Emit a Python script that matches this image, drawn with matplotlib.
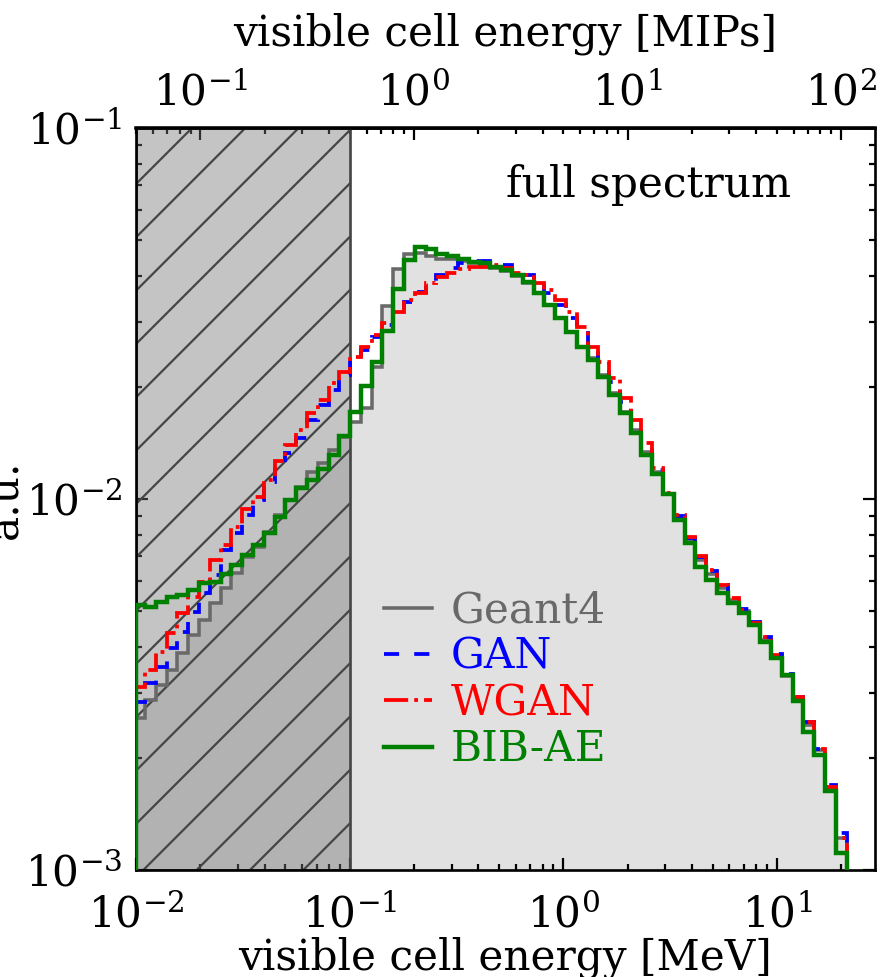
import numpy as np
import matplotlib
matplotlib.use("Agg")
import matplotlib.pyplot as plt

plt.rcParams["font.family"] = "DejaVu Serif"
plt.rcParams["mathtext.fontset"] = "dejavuserif"
plt.rcParams["font.size"] = 9.5
plt.rcParams["hatch.linewidth"] = 0.5

# log-spaced energy bins [MeV], 66 bins from 0.01 up to ~21 MeV
edges = np.logspace(-2.008, 1.326, 67)
edges[0] = 0.01

geant4 = [0.00257, 0.00287, 0.00315, 0.00346, 0.00385, 0.00430, 0.00472, 0.00525, 0.00576, 0.00632,
          0.00698, 0.00742, 0.00815, 0.00905, 0.00994, 0.01077, 0.01183, 0.0125, 0.01356, 0.0147,
          0.0161, 0.0176, 0.0227, 0.0331, 0.0417, 0.0458, 0.0460, 0.0452, 0.0444, 0.0444,
          0.0438, 0.0433, 0.0427, 0.0419, 0.0412, 0.0399, 0.0382, 0.0359, 0.0333, 0.0308,
          0.0282, 0.0257, 0.0240, 0.0216, 0.0193, 0.0172, 0.0153, 0.0134, 0.0118, 0.0103,
          0.00889, 0.00775, 0.00685, 0.00628, 0.00576, 0.00534, 0.00499, 0.00460, 0.00417, 0.00377,
          0.00333, 0.00289, 0.00246, 0.00211, 0.00166, 0.00122]

gan = [0.00284, 0.00319, 0.00353, 0.00397, 0.00438, 0.00496, 0.00558, 0.00624, 0.00729, 0.00810,
       0.00905, 0.00994, 0.0111, 0.0122, 0.0133, 0.0146, 0.0163, 0.0179, 0.0197, 0.0216,
       0.0237, 0.0252, 0.0273, 0.0294, 0.0317, 0.0340, 0.0361, 0.0385, 0.0402, 0.0419,
       0.0433, 0.0438, 0.0438, 0.0433, 0.0427, 0.0414, 0.0402, 0.0382, 0.0359, 0.0333,
       0.0308, 0.0285, 0.0255, 0.0230, 0.0207, 0.0183, 0.0160, 0.0139, 0.0120, 0.0103,
       0.00900, 0.00785, 0.00698, 0.00640, 0.00586, 0.00544, 0.00505, 0.00466, 0.00425, 0.00382,
       0.00338, 0.00293, 0.00251, 0.00212, 0.00170, 0.00126]

wgan = [0.00311, 0.00346, 0.00387, 0.00435, 0.00493, 0.00544, 0.00598, 0.00685, 0.00752, 0.00841,
        0.00940, 0.01012, 0.01125, 0.01266, 0.01398, 0.01535, 0.0171, 0.01849, 0.02054, 0.0220,
        0.0241, 0.0257, 0.0277, 0.0298, 0.0319, 0.0344, 0.0359, 0.0382, 0.0397, 0.0407,
        0.0417, 0.0422, 0.0422, 0.0427, 0.0419, 0.0407, 0.0402, 0.0382, 0.0366, 0.0344,
        0.0319, 0.0291, 0.0257, 0.0234, 0.0212, 0.0187, 0.0163, 0.0142, 0.0121, 0.0104,
        0.00905, 0.00790, 0.00702, 0.00644, 0.00586, 0.00541, 0.00502, 0.00463, 0.00425, 0.00380,
        0.00336, 0.00293, 0.00251, 0.00212, 0.00167, 0.00122]

bibae = [0.00518, 0.00512, 0.00528, 0.00544, 0.00551, 0.00569, 0.00594, 0.00598, 0.00628, 0.00664,
         0.00707, 0.00752, 0.00810, 0.00894, 0.00994, 0.0107, 0.01125, 0.01205, 0.01314, 0.01479,
         0.0172, 0.0202, 0.0234, 0.0284, 0.0368, 0.0441, 0.0478, 0.0472, 0.0458, 0.0452,
         0.0444, 0.0435, 0.0433, 0.0422, 0.0414, 0.0402, 0.0385, 0.0359, 0.0333, 0.0308,
         0.0282, 0.0257, 0.0237, 0.0213, 0.0191, 0.0171, 0.0151, 0.0131, 0.0117, 0.0103,
         0.00878, 0.00761, 0.00656, 0.00605, 0.00558, 0.00525, 0.00493, 0.00458, 0.00412, 0.00373,
         0.00336, 0.00285, 0.00236, 0.00204, 0.00163, 0.00111]

MEV_PER_MIP = 0.2

fig = plt.figure(figsize=(882 / 320, 977 / 320), dpi=320)
ax = fig.add_axes([136 / 882, 1 - 870 / 977, 739 / 882, 742 / 977])

# filled Geant4 reference
ax.stairs(geant4, edges, fill=True, color="#e1e1e1", baseline=1e-5, zorder=1)
# region below 0.5 MIP
ax.axvspan(0.01, 0.1, facecolor=(0.45, 0.45, 0.45, 0.42), edgecolor="#454545",
           hatch="//", linewidth=0.6, zorder=2)

ax.stairs(geant4, edges, color="dimgray", lw=0.8, baseline=1e-5, zorder=3, label="Geant4")
ax.stairs(gan, edges, color="blue", lw=0.85, ls=(0, (4, 4)), baseline=1e-5, zorder=4, label="GAN")
ax.stairs(wgan, edges, color="red", lw=0.85, ls="-.", baseline=1e-5, zorder=5, label="WGAN")
ax.stairs(bibae, edges, color="green", lw=1.0, baseline=1e-5, zorder=6, label="BIB-AE")

ax.set_xscale("log")
ax.set_yscale("log")
ax.set_xlim(0.01, 28.8)
ax.set_ylim(1e-3, 1e-1)

ax.set_xlabel("visible cell energy [MeV]", labelpad=0)
ax.set_ylabel("a.u.")
ax.yaxis.set_label_coords(-0.148, 0.5)

ax.tick_params(which="both", direction="in", width=0.5, top=False, right=True)
ax.tick_params(which="major", length=2.6, pad=3)
ax.tick_params(axis="x", which="major", pad=5.5)
ax.tick_params(which="minor", length=1.4)
for s in ax.spines.values():
    s.set_linewidth(0.6)

top = ax.secondary_xaxis("top", functions=(lambda e: e / MEV_PER_MIP, lambda m: m * MEV_PER_MIP))
top.set_xlabel("visible cell energy [MIPs]", labelpad=6)
top.tick_params(which="both", direction="in", width=0.5)
top.tick_params(which="major", length=2.6, pad=3)
top.tick_params(which="minor", length=1.4)

ax.text(0.693, 0.923, "full spectrum", transform=ax.transAxes, ha="center", va="center")

leg = ax.legend(loc="center", bbox_to_anchor=(0.486, 0.256), frameon=False,
                handlelength=1.15, handletextpad=0.45, labelspacing=0.1, borderaxespad=0)
for txt, c in zip(leg.get_texts(), ["dimgray", "blue", "red", "green"]):
    txt.set_color(c)

fig.savefig("out.png", dpi=320)
